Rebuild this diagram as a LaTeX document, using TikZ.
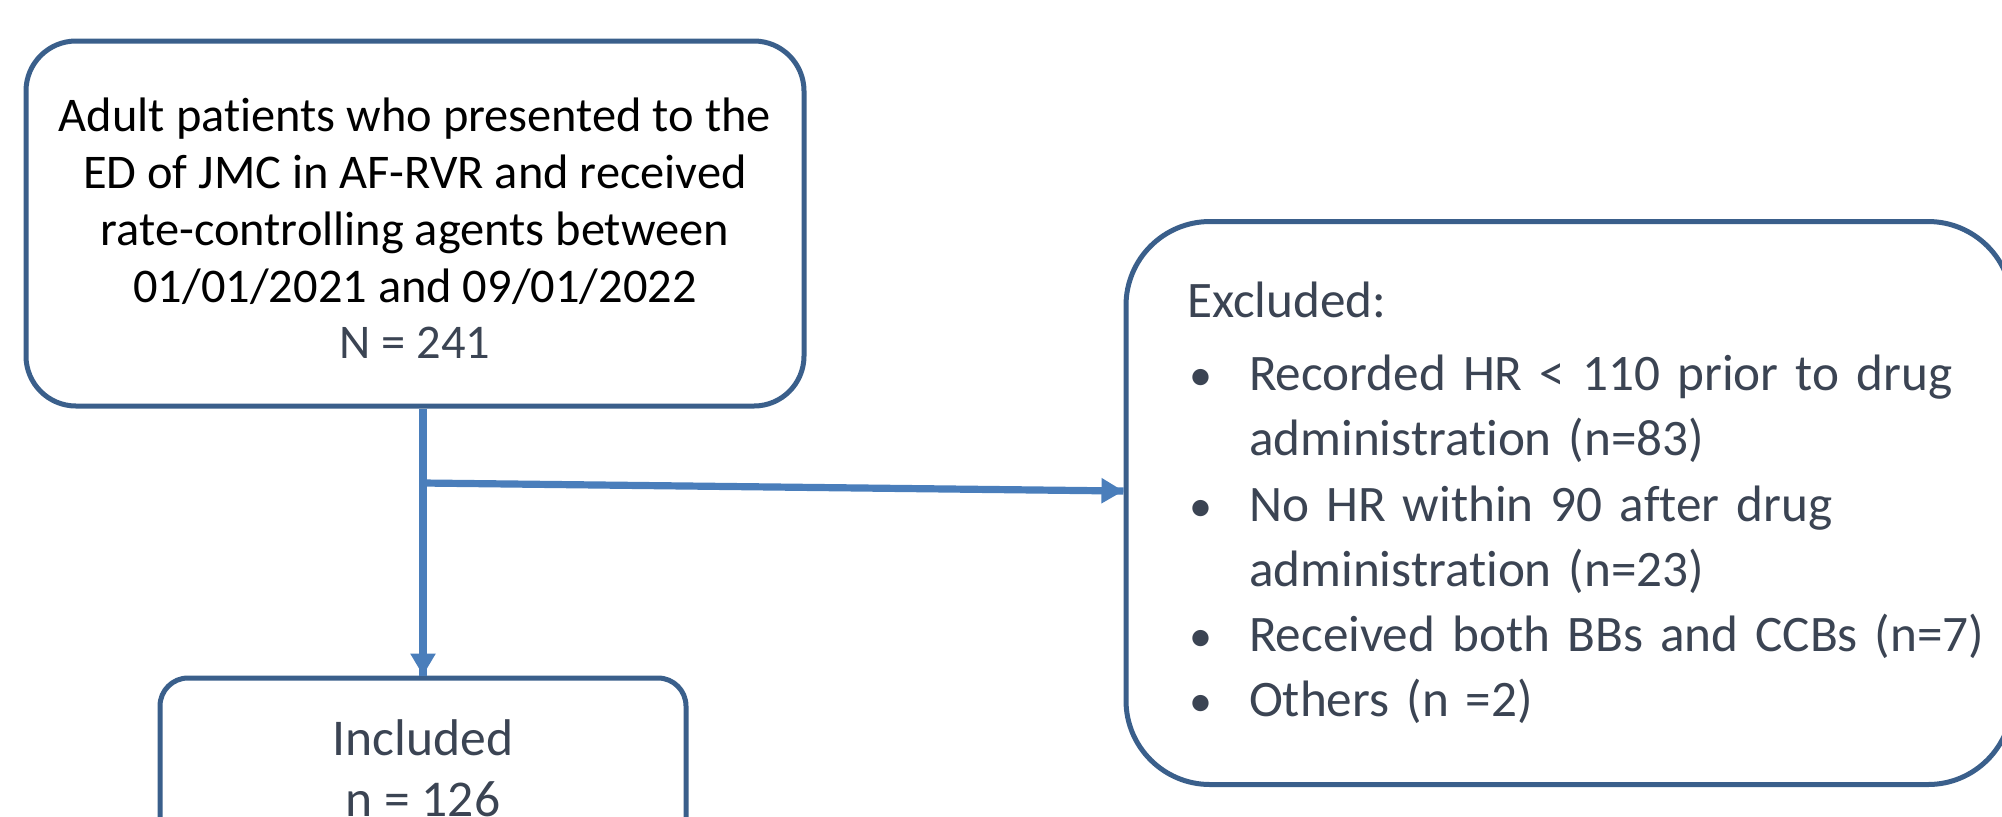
\documentclass[tikz,border=0pt]{standalone}
\usepackage{fontspec}
\setmainfont{Carlito}[Ligatures={NoCommon,NoContextual}, Contextuals=NoAlternate]
\usetikzlibrary{decorations.markings}
\usetikzlibrary{arrows.meta}

\definecolor{boxblue}{HTML}{3A5F8B}
\definecolor{arrowblue}{HTML}{4A7EBB}
\definecolor{slate}{HTML}{3B4453}

\newcommand{\exbullet}{\makebox[31pt][l]{\hspace*{1pt}\scalebox{0.9}{\textbullet}}}

\begin{document}
\begin{tikzpicture}[x=0.5pt,y=-0.5pt,
	flowbox/.style={draw=boxblue, line width=2.5pt, fill=white, align=center},
	flowarrow/.style={line width=3.6pt, color=arrowblue,
		postaction={decorate},
		decoration={markings, mark=at position 1 with {\arrow{Triangle[length=11pt,width=12pt]}}}}
	]
		\useasboundingbox (0,0) rectangle (2002,816);
		
		\node[flowbox, rounded corners=25pt, minimum width=389pt, minimum height=182.5pt,
		font=\fontsize{24.2pt}{28.4pt}\selectfont] (pop) at (415,223.5)
		{\rule{0pt}{0.9em}Adult patients who presented to the\\ ED of JMC in AF-RVR and received\\ rate-controlling agents between\\ 01/01/2021 and 09/01/2022\\ {\color{slate}N = 241}};
		
		\node[flowbox, rounded corners=14pt, minimum width=263pt, minimum height=90pt,
		text=slate, font=\fontsize{25.8pt}{30.5pt}\selectfont] (incl) at (423,768) {Included\\ n = 126};
		
		\node[flowbox, rounded corners=42pt, align=left, text width=382pt, inner xsep=30.5pt,
		minimum height=281.5pt, text=slate, font=\fontsize{25.6pt}{32.6pt}\selectfont] (excl) at (1569,503)
		{\mbox{Excluded:}\\[0.15em]
		\mbox{\exbullet Recorded HR < 110 prior to drug}\\
		\mbox{\hspace*{31pt}administration (n=83)}\\
		\mbox{\exbullet No HR within 90 after drug}\\
		\mbox{\hspace*{31pt}administration (n=23)}\\
		\mbox{\exbullet Received both BBs and CCBs (n=7)}\\
		\mbox{\exbullet Others (n =2)}};
		
		\coordinate (split) at (423,483);
		
		\draw[flowarrow] (pop.south -| incl.north) -- (incl.north);
		\draw[flowarrow] (split) -- ([yshift=6pt]excl.west);
	\end{tikzpicture}
\end{document}
